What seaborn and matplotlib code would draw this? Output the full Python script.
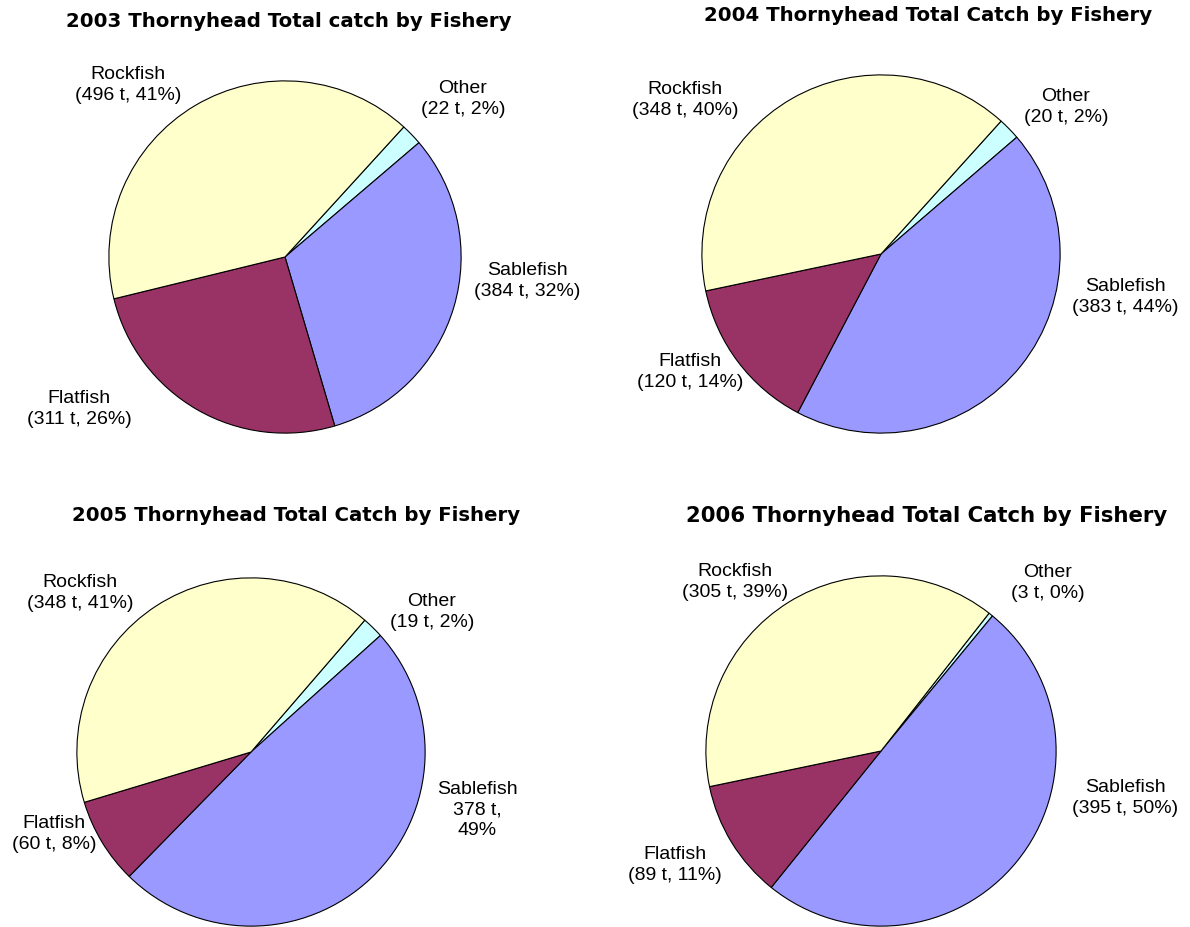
import matplotlib
matplotlib.use("Agg")
import matplotlib.pyplot as plt
import seaborn as sns

# Thornyhead total catch by fishery, 2003-2006
years = ["2003", "2004", "2005", "2006"]
titles = [
    "2003 Thornyhead Total catch by Fishery",
    "2004 Thornyhead Total Catch by Fishery",
    "2005 Thornyhead Total Catch by Fishery",
    "2006 Thornyhead Total Catch by Fishery",
]
fisheries = ["Other", "Sablefish", "Flatfish", "Rockfish"]

# catch in tonnes
other_t = [22, 20, 19, 3]
sablefish_t = [384, 383, 378, 395]
flatfish_t = [311, 120, 60, 89]
rockfish_t = [496, 348, 348, 305]

# share of total (%) as drawn in the slices
other_pct = [2, 2, 2, 0.4]
sablefish_pct = [32, 44, 49, 50]
flatfish_pct = [26, 14, 8, 11]
rockfish_pct = [41, 40, 41, 39]

colors = ["#CCFFFF", "#9999FF", "#993366", "#FFFFCC"]

# layout (pixels, from top-left of the 1190x928 figure)
W, H = 1190, 928
pie_centers = [(285, 258), (881, 255), (251, 753), (881, 752)]
pie_radius = [177, 180, 175, 176]
start_angles = [47.6, 47.9, 49.2, 51.9]
title_pos = [(289, 27), (928, 21), (296, 521), (927, 522)]  # baseline
title_size = [14.2, 14.2, 14.2, 15.3]
label_pos = [
    [(463, 99), (527, 281), (79, 409), (128, 85)],
    [(1066, 107), (1125, 297), (690, 372), (685, 100)],
    [(432, 612), (477, 810), (54, 834), (80, 593)],
    [(1048, 583), (1125, 798), (675, 865), (735, 582)],
]
wrapped = {(2, 1)}  # 2005 Sablefish label is broken over three lines

sns.set_theme(style="white")
plt.rcParams["font.family"] = ["Liberation Sans", "DejaVu Sans"]
plt.rcParams["text.color"] = "black"

fig = plt.figure(figsize=(W / 100, H / 100), dpi=100)
fig.patch.set_facecolor("white")

for i, year in enumerate(years):
    tons = [other_t[i], sablefish_t[i], flatfish_t[i], rockfish_t[i]]
    pcts = [other_pct[i], sablefish_pct[i], flatfish_pct[i], rockfish_pct[i]]

    cx, cy = pie_centers[i]
    r = pie_radius[i]
    ax = fig.add_axes([(cx - r) / W, 1 - (cy + r) / H, 2 * r / W, 2 * r / H])
    ax.pie(
        pcts,
        colors=colors,
        startangle=start_angles[i],
        counterclock=False,
        radius=1,
        wedgeprops={"edgecolor": "black", "linewidth": 0.8},
    )
    ax.set_xlim(-1.005, 1.005)
    ax.set_ylim(-1.005, 1.005)
    ax.set_axis_off()

    tx, ty = title_pos[i]
    fig.text(tx / W, 1 - ty / H, titles[i], ha="center", va="baseline",
             fontsize=title_size[i], fontweight="bold", family="DejaVu Sans",
             color="black")

    for j, name in enumerate(fisheries):
        if (i, j) in wrapped:
            txt = f"{name}\n{tons[j]} t,\n{round(pcts[j])}%"
        else:
            txt = f"{name}\n({tons[j]} t, {round(pcts[j])}%)"
        lx, ly = label_pos[i][j]
        fig.text(lx / W, 1 - ly / H, txt, ha="center", va="center",
                 fontsize=14, linespacing=1.25, color="black")

plt.savefig("out.png", dpi=100)
